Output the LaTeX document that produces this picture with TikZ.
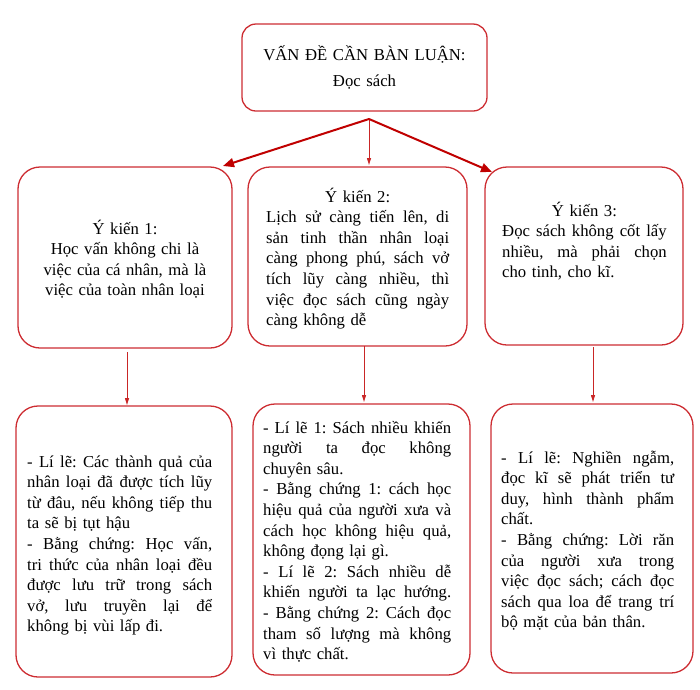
\documentclass[tikz,border=0pt]{standalone}
\usepackage{fontspec}
\setmainfont{Liberation Serif}
\usetikzlibrary{arrows.meta}
\definecolor{boxred}{RGB}{205,45,50}
\definecolor{arrred}{RGB}{192,0,0}
\newcommand\jline[1]{\makebox[\linewidth][s]{\spaceskip=\fontdimen2\font plus 1fil\relax #1}\par}
\newcommand\lline[1]{\makebox[\linewidth][l]{#1}\par}
\newcommand\cenline[1]{\makebox[\linewidth][c]{#1}\par}
\frenchspacing
\begin{document}
\begin{tikzpicture}[x=1pt,y=-1pt,
  box/.style={draw=boxred, line width=1.3pt, rounded corners=22pt, inner sep=0pt},
  txt/.style={inner sep=0pt, font=\fontsize{16.7pt}{20.6pt}\selectfont\frenchspacing, anchor=base west},
  bigarr/.style={draw=arrred, line width=2pt, -{Triangle[length=11pt,width=9pt]}},
  thinarr/.style={draw=arrred!85!white, line width=1pt, -{Triangle[length=7pt,width=4pt]}}]
\path[use as bounding box] (0,0) rectangle (700,689);

% boxes
\node[box, rounded corners=14pt, minimum width=245pt, minimum height=87pt] (top) at (364.5,67.5) {};
\node[box, minimum width=214pt, minimum height=181pt] (b1) at (125,257.5) {};
\node[box, minimum width=219pt, minimum height=179pt] (b2) at (357.5,256.5) {};
\node[box, minimum width=198pt, minimum height=178pt] (b3) at (584,256) {};
\node[box, minimum width=216pt, minimum height=271pt] (b4) at (124,541.5) {};
\node[box, minimum width=217pt, minimum height=271pt] (b5) at (361.5,539.5) {};
\node[box, minimum width=202pt, minimum height=269pt] (b6) at (592,538.5) {};

% connector ends
\coordinate (src) at (369,119);
\coordinate (e1) at (223,166);
\coordinate (e2) at (369,165);
\coordinate (e3) at (492,172);
\coordinate (s4) at (127,352);
\coordinate (e4) at (127,405);
\coordinate (s5) at (364,346);
\coordinate (e5) at (364,402);
\coordinate (s6) at (593,347);
\coordinate (e6) at (593,402);

\draw[bigarr] (src) -- (e1);
\draw[thinarr] (src) -- (e2);
\draw[bigarr] (src) -- (e3);
\draw[thinarr] (s4) -- (e4);
\draw[thinarr] (s5) -- (e5);
\draw[thinarr] (s6) -- (e6);

% texts
\node[txt, anchor=base, text width=245pt, align=center, font=\fontsize{16.7pt}{25.5pt}\selectfont] (t0) at (364.5,60.5)
  {VẤN ĐỀ CẦN BÀN LUẬN:\\ Đọc sách};

\node[txt, anchor=base, text width=214pt, align=center] (t1) at (125,234)
  {Ý kiến 1:\\ Học vấn không chi là\\ việc của cá nhân, mà là\\ việc của toàn nhân loại};

\node[txt, text width=183pt] (t2) at (266,202) {%
\cenline{Ý kiến 2:}
\jline{Lịch sử càng tiến lên, di}
\jline{sản tinh thần nhân loại}
\jline{càng phong phú, sách vở}
\jline{tích lũy càng nhiều, thì}
\jline{việc đọc sách cũng ngày}
\lline{càng không dễ}};

\node[txt, text width=164.5pt] (t3) at (502,216) {%
\cenline{Ý kiến 3:}
\jline{Đọc sách không cốt lấy}
\jline{nhiều, mà phải chọn}
\lline{cho tinh, cho kĩ.}};

\node[txt, text width=185pt] (t4) at (27,467) {%
\jline{- Lí lẽ: Các thành quả của}
\jline{nhân loại đã được tích lũy}
\jline{từ đâu, nếu không tiếp thu}
\lline{ta sẽ bị tụt hậu}
\jline{- Bằng chứng: Học vấn,}
\jline{tri thức của nhân loại đều}
\jline{được lưu trữ trong sách}
\jline{vở, lưu truyền lại để}
\lline{không bị vùi lấp đi.}};

\node[txt, text width=188pt] (t5) at (263,433) {%
\jline{- Lí lẽ 1: Sách nhiều khiến}
\jline{người ta đọc không}
\lline{chuyên sâu.}
\jline{- Bằng chứng 1: cách học}
\jline{hiệu quả của người xưa và}
\jline{cách học không hiệu quả,}
\lline{không đọng lại gì.}
\jline{- Lí lẽ 2: Sách nhiều dễ}
\jline{khiến người ta lạc hướng.}
\jline{- Bằng chứng 2: Cách đọc}
\jline{tham số lượng mà không}
\lline{vì thực chất.}};

\node[txt, text width=173pt] (t6) at (501,463) {%
\jline{- Lí lẽ: Nghiền ngẫm,}
\jline{đọc kĩ sẽ phát triển tư}
\jline{duy, hình thành phẩm}
\lline{chất.}
\jline{- Bằng chứng: Lời răn}
\jline{của người xưa trong}
\jline{việc đọc sách; cách đọc}
\jline{sách qua loa để trang trí}
\lline{bộ mặt của bản thân.}};
\end{tikzpicture}
\end{document}
